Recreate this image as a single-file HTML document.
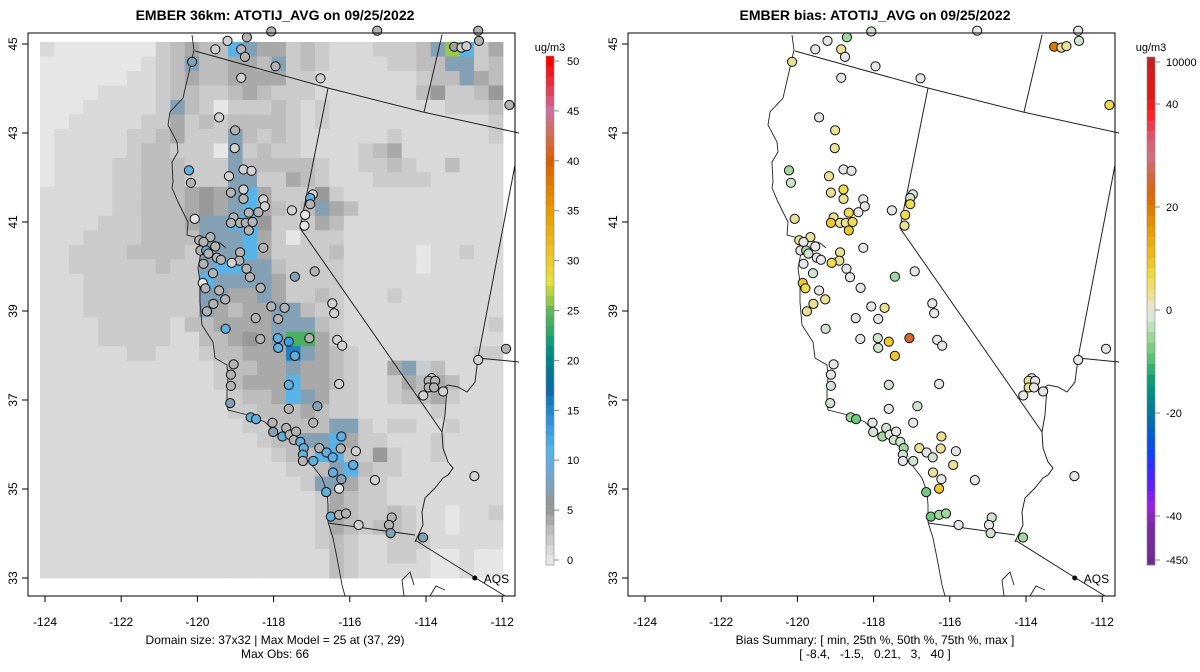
<!DOCTYPE html>
<html><head><meta charset="utf-8"><style>
html,body{margin:0;padding:0;background:#fff;}
svg{display:block;font-family:"Liberation Sans",sans-serif;}
</style></head><body>
<svg id="chart" width="1200" height="672" viewBox="0 0 1200 672">
<rect width="1200" height="672" fill="#fff"/>
<g id="left"></g>
<g id="right" transform="translate(600,0)"></g>
</svg>
<script>
// ---- data ----
const xTicks = [-124, -122, -120, -118, -116, -114, -112];
const yTicks = [33, 35, 37, 39, 41, 43, 45];
const obsCbTicks = [0, 5, 10, 15, 20, 25, 30, 35, 40, 45, 50];
const biasCbTicks = [10000, 40, 20, 0, -20, -40, -450];
const cellCodes = ['a','b','c','d','e','f','g','h','i','j','k'];
const cellValues = [0, 1, 2, 3, 4, 5, 7, 11, 15.5, 24, 26];
const modelRows = [
"baaaaaaacdeddhgeecdcbbbcccdgkhce",
"aaaaaaabcdgddeedgcdcbbbbccddggcd",
"aaaaaabbcdeddeeeeccbbbbbbbcddged",
"aaaabbbbcddccdedcccbbbbbbbdfccdf",
"aaabbbbbcgdcacccdcbcbbbbbbbbcccd",
"aabbbbbccecdcddddcbcbbbbbbbbbbbc",
"abbbbbccdecccgdcdcbbbbbbcbbbbbbc",
"abbbbbcddcccagcdccbbbbcdebbbbbbb",
"abbbbccdddcccgdddddcbbccdcbbdbbb",
"abbbbccdddcccggccedcbbbccccbbbbb",
"bbbbbccdddefeghecccfcbbbbbbbbbbb",
"bbbbbccdddefeghedcdgedbbbbbbbbbb",
"bbbbcccdddegghhfcccedbbbbbbbbbbb",
"bbbccccddddggghecacccbbbbbbbbbbb",
"bbccccddddcggghecccc" + "dbbbbbabbcbb",
"bbccccccdccghhggdccccbbbbbabbbbb",
"bbbcccccccchgggge" + "cccc" + "bbbbbbbbbbb",
"bbbccccccccggeegeccdcbbbcbbbbbbb",
"bbbccccccccgedeeggdccbbbbbbbbbbb",
"bbbbcccccbddeeeegggdcbbbbbbbbbbc",
"bbbbcccccbbddefegjjecbbbbbbbbbbb",
"bbbbbbccbbbcddeeeigedcbbbbbbbbcc",
"bbbbbbbbbbbbcddeegeedcbbegcdbbbb",
"bbbbbbbbbbbbcdeeeheedcbbcededbbb",
"bbbbbbbbbbbbbcddehgeccbbcddecbbb",
"bbbbbbbbbbbbbccdddedccbbbbbcbbbb",
"bbbbbbbbbbbbbbccddddggcbccbbcbbb",
"bbbbbbbbbbbbbbbcddggheccbbbcbbbb",
"bbbbbbbbbbbbbbbbcddhhdcfcbbcbbbb",
"bbbbbbbbbbbbbbbbbccdghdccbbbbbbb",
"bbbbbbbbbbbbbbbbbbcggeccbbbbbbbb",
"bbbbbbbbbbbbbbbbbbbcedccbbbbbbbb",
"bbbbbbbbbbbbbbbbbbbcedccdcbbabbc",
"bbbbbbbbbbbbbbbbbbbcedcddcbbabbb",
"bbbbbbbbbbbbbbbbbbbcdcbbcccbbbbb",
"bbbbbbbbbbbbbbbbbbbbdcbbccbaabaa",
"bbbbbbbbbbbbbbbbbbbbdcbbbbbaabaa"
];
const stationLon = [-119.21,-118.70,-118.06,-115.28,-119.53,-118.85,-118.75,-117.95,-120.14,-118.85,-116.77,-113.26,-113.07,-112.94,-112.61,-112.63,-111.81,-119.43,-119.01,-119.02,-120.22,-120.17,-118.79,-118.58,-119.17,-119.12,-118.79,-118.79,-118.27,-118.23,-118.40,-118.65,-119.05,-119.12,-118.88,-118.73,-118.55,-118.65,-120.07,-117.52,-116.97,-117.04,-117.04,-117.17,-117.19,-119.95,-119.66,-119.84,-119.53,-119.92,-119.77,-119.71,-119.49,-119.38,-119.84,-118.88,-118.90,-119.10,-118.27,-119.59,-118.71,-118.62,-118.34,-119.86,-119.79,-119.43,-119.27,-119.58,-117.44,-116.92,-116.46,-118.06,-117.71,-119.75,-118.47,-117.88,-116.41,-119.26,-118.35,-117.89,-117.60,-117.88,-117.06,-116.33,-116.20,-117.44,-119.05,-119.12,-119.12,-117.60,-116.28,-119.14,-118.60,-118.46,-118.03,-117.60,-116.85,-116.96,-118.01,-117.77,-117.67,-117.58,-117.41,-117.47,-117.30,-117.21,-117.23,-117.23,-116.96,-116.80,-116.61,-116.45,-116.22,-116.24,-115.84,-115.91,-116.44,-116.22,-116.28,-115.34,-116.62,-116.50,-116.28,-116.10,-115.77,-114.90,-114.97,-114.93,-114.08,-113.85,-113.93,-113.76,-113.93,-113.79,-114.07,-113.55,-112.63,-111.90,-112.73];
const stationLat = [45.07,45.15,45.28,45.30,44.88,44.88,44.71,44.50,44.60,44.24,44.23,44.94,44.92,44.95,45.07,45.30,43.63,43.35,43.06,42.66,42.16,41.88,42.18,42.15,42.03,41.66,41.73,41.52,41.51,41.35,41.22,41.21,41.10,40.98,40.98,40.98,41.00,40.81,41.07,41.26,41.62,41.54,41.40,41.16,40.92,40.59,40.66,40.55,40.45,40.36,40.36,40.29,40.20,40.15,40.06,40.32,40.13,40.08,40.42,39.85,39.95,39.76,39.52,39.63,39.51,39.46,39.26,39.16,39.77,39.89,39.17,39.10,39.07,38.99,38.84,38.82,38.95,38.60,38.37,38.39,38.31,38.17,38.39,38.35,38.22,37.99,37.80,37.57,37.32,37.34,37.36,36.93,36.61,36.57,36.49,36.80,36.86,36.49,36.28,36.18,36.37,36.22,36.29,36.10,36.06,35.92,35.77,35.63,35.63,35.92,35.82,35.71,36.18,35.91,35.85,35.54,35.37,35.22,35.01,35.20,34.93,34.38,34.42,34.45,34.19,34.36,34.19,34.01,33.91,37.49,37.43,37.43,37.28,37.28,37.10,37.19,37.90,38.15,35.29];
const stationObs = [1.5,3.5,3.5,3.5,1.5,3.5,3.5,3.5,7,1.5,1.5,4.5,2,2,3.5,3.5,3.5,1.5,3.5,1.5,10,3.5,1.5,1.5,1.5,3.5,1.5,3.5,1.5,1.5,3.5,3.5,3.5,3.5,3.5,3.5,3.5,3.5,0,1.5,1.5,10,3.5,0,0,3.5,3.5,3.5,3.5,3.5,10,3.5,3.5,3.5,3.5,3.5,3.5,1.5,3.5,3.5,3.5,3.5,3.5,0,3.5,3.5,3.5,3.5,7,3.5,1.5,3.5,3.5,3.5,3.5,3.5,1.5,10,3.5,10,13,10,3.5,1.5,1.5,10,3.5,3.5,3.5,10,1.5,7,10,10,3.5,3.5,7,3.5,7,10,3.5,3.5,3.5,3.5,10,10,10,3.5,10,3.5,10,10,10,3.5,1.5,10,10,7,0,1.5,10,10,3.5,3.5,1.5,3.5,3.5,7,7,1.5,3.5,3.5,3.5,3.5,1.5,1.5,1.5,3.5,1.5];
const stationBias = [0,-5,-2,0,0,2.5,0,0,2.5,0,0,20,2.5,2.5,-2,0,6,0,2.5,2.5,-5,-2,0,0,2.5,2.5,6,2.5,0,0,0,6,2.5,9,2.5,2.5,6,9,2.5,0,0,-2,6,6,2.5,2.5,2.5,0,0,0,-5,-2,0,0,0,2.5,2.5,6,0,-2,0,0,0,9,6,0,2.5,2.5,-5,0,0,0,2.5,2.5,0,0,0,-2,0,-2,9,-2,25,0,0,9,0,0,-2,-2,0,-2,-5,-8,0,0,-2,0,-2,-5,-2,0,0,-2,-2,-5,-2,0,-2,2.5,0,-2,2.5,2.5,0,2.5,2.5,0,9,0,-8,-8,-5,-5,0,-2,0,-2,-5,0,2.5,0,2.5,0,0,0,0,0,0];
const aqsLon = -112.72, aqsLat = 33.0;

// ---- axes ----
const xOf = lon => 45 + (lon + 124) * 38.1;
const yOf = lat => 44 + (45 - lat) * 44.5;
const gridX0 = 40, gridY0 = 42, cellW = 463 / 32, cellH = 536 / 37;
const obsCbY = v => 560 - v * 9.98;
const biasCbY = v => {
  if (v > 40) return 104 - Math.min(1, Math.log10(v / 40) / Math.log10(250)) * 47;
  if (v < -40) return 518 + Math.min(1, Math.log10(-v / 40) / Math.log10(11.25)) * 47;
  return 310 - v * 5.15;
};
const biasCbInv = y => {
  if (y < 104) return 40 * Math.pow(250, (104 - y) / 47);
  if (y > 518) return -40 * Math.pow(11.25, (y - 518) / 47);
  return (310 - y) / 5.15;
};

function hex(c){return [parseInt(c.substr(1,2),16),parseInt(c.substr(3,2),16),parseInt(c.substr(5,2),16)];}
function interp(stops, v){
  if (v <= stops[0][0]) return stops[0][1];
  if (v >= stops[stops.length-1][0]) return stops[stops.length-1][1];
  for (let i=1;i<stops.length;i++){
    if (v <= stops[i][0]){
      const t=(v-stops[i-1][0])/(stops[i][0]-stops[i-1][0]);
      const a=hex(stops[i-1][1]), b=hex(stops[i][1]);
      return 'rgb('+a.map((x,k)=>Math.round(x+(b[k]-x)*t)).join(',')+')';
    }
  }
}
const obsStops=[[0,'#e6e6e6'],[1,'#d9d9d9'],[2,'#cbcbcb'],[3,'#bdbdbd'],[4,'#a9a9a9'],[5,'#999999'],[6,'#8f979d'],[7,'#84a0b4'],[9,'#6aaad4'],[11,'#58b4e8'],[13,'#3a9ee0'],[15,'#2288cc'],[17,'#0a6aaa'],[19,'#007890'],[21,'#009080'],[23,'#30a868'],[25,'#60b858'],[26,'#98c848'],[28,'#e4e040'],[31,'#f0c020'],[35,'#e89a00'],[40,'#d86000'],[43,'#d07060'],[45,'#cc70a0'],[47,'#e04058'],[50,'#ff0000']];
const biasStops=[[-450,'#6a2d8a'],[-42,'#7a2aa0'],[-38,'#9a20e8'],[-33,'#5020ff'],[-28,'#1040ff'],[-24,'#0060d0'],[-20,'#007a9a'],[-16,'#009080'],[-13,'#10a070'],[-10,'#50c070'],[-7,'#80d080'],[-4,'#b0dcb0'],[-1.5,'#d8e6d8'],[0,'#e6e6e6'],[1.5,'#e8e2b0'],[4,'#f0e070'],[7,'#f0d840'],[10,'#f0c020'],[14,'#eaa808'],[18,'#e08800'],[22,'#dc6800'],[26,'#d06840'],[30,'#d07080'],[34,'#e05070'],[38,'#ff2020'],[42,'#e01818'],[10000,'#a02828']];
const obsColor = v => interp(obsStops, v);
const biasColor = v => interp(biasStops, v);

const NS='http://www.w3.org/2000/svg';
function mk(tag, attrs, parent){const e=document.createElementNS(NS,tag);for(const k in attrs)e.setAttribute(k,attrs[k]);parent.appendChild(e);return e;}

// geography outlines (left-panel pixel space)
const coastPath="M192,35 L194,50 L189,72 L183,98 L170,112 L168,125 L177,142 L178,152 L172,162 L173,182 L172,188 L178,202 L188,222 L187,235 L198,238 L202,248 L198,268 L200,282 L200,302 L202,325 L213,342 L215,358 L227,365 L228,377 L227,392 L227,403 L228,410 L248,415 L265,422 L275,432 L288,438 L302,445 L305,458 L312,465 L322,478 L327,492 L328,505 L328,522 L333,538 L337,558 L342,585 L345,596 M200,238 L210,240 L220,243 L226,248 M404,596 L402,580 L410,572 L414,585 M430,596 L436,586 L445,590";
const borderPaths=["M195,51 L328,88 L423,112 L519,133","M328,88 L300,228 L442,432","M442,432 L443,448 L448,462 L453,468 L448,475 L443,478 L435,488 L425,498 L422,512 L423,525 L415,542","M328,523 L415,535","M415,540 L474,577 L505,596","M442,35 L424,112","M515,165 L478,358 L519,362","M478,358 L475,382 L467,392 L458,387 L448,385 L443,388","M447,387 L445,415 L442,432"];

function panel(g, isBias){
  if(!isBias){
    modelRows.forEach((row,r)=>{
      for(let c=0;c<row.length;c++){
        const v=cellValues[cellCodes.indexOf(row[c])];
        const rect=mk('rect',{x:(gridX0+c*cellW).toFixed(2),y:(gridY0+r*cellH).toFixed(2),width:(cellW+0.4).toFixed(2),height:(cellH+0.4).toFixed(2),fill:obsColor(v)},g);
        
        
      }
    });
  }
  const geo=mk('g',{fill:'none',stroke:'#222','stroke-width':1},g);
  
  
  const cp=mk('path',{d:coastPath,'stroke-width':0.9},geo);
  
  
  borderPaths.forEach(d=>{const p=mk('path',{d:d},geo);
    
    });
  stationLon.forEach((lon,i)=>{
    const fill=isBias?biasColor(stationBias[i]):obsColor(stationObs[i]);
    const c=mk('circle',{cx:xOf(lon).toFixed(1),cy:yOf(stationLat[i]).toFixed(1),r:4.6,fill:fill,stroke:'#111','stroke-width':1},g);
    
    
  });
  const fr=mk('rect',{x:28,y:33,width:487,height:563,fill:'none',stroke:'#000','stroke-width':1},g);
  
  
  const ad=mk('circle',{cx:xOf(aqsLon),cy:yOf(aqsLat),r:2.5,fill:'#000'},g);
  
  
  const at=mk('text',{x:xOf(aqsLon)+9,y:yOf(aqsLat)+5,'font-size':12},g);at.textContent='AQS';
  
  
  xTicks.forEach(t=>{
    const l=mk('line',{x1:xOf(t),x2:xOf(t),y1:596,y2:602,stroke:'#000'},g);
    
    
    const tx=mk('text',{x:xOf(t),y:626,'font-size':12,'text-anchor':'middle'},g);tx.textContent=t;
    
    
  });
  yTicks.forEach(t=>{
    const l=mk('line',{x1:22,x2:28,y1:yOf(t),y2:yOf(t),stroke:'#000'},g);
    
    
    const tx=mk('text',{x:0,y:0,'font-size':12,'text-anchor':'middle',transform:'translate(17,'+yOf(t)+') rotate(-90)'},g);tx.textContent=t;
    
    
  });
  const title=mk('text',{x:275,y:20,'font-size':14,'font-weight':'bold','text-anchor':'middle'},g);
  title.textContent=isBias?'EMBER bias: ATOTIJ_AVG on 09/25/2022':'EMBER 36km: ATOTIJ_AVG on 09/25/2022';
  
  
  const s1=mk('text',{x:275,y:644,'font-size':12,'text-anchor':'middle'},g);
  s1.textContent=isBias?'Bias Summary: [ min, 25th %, 50th %, 75th %, max ]':'Domain size: 37x32 | Max Model = 25 at (37, 29)';
  
  
  const s2=mk('text',{x:275,y:658,'font-size':12,'text-anchor':'middle'},g);
  s2.textContent=isBias?'[ -8.4,   -1.5,   0.21,   3,   40 ]':'Max Obs: 66';
  s2.style.whiteSpace='pre';
  
  
  const cb=mk('g',{},g);
  
  
  if(!isBias){
    for(let v=0;v<=50;v++){
      const y1=obsCbY(v+0.5), y2=obsCbY(v-0.5);
      const r=mk('rect',{x:546,y:y1,width:8,height:y2-y1+0.3,fill:obsColor(v)},cb);
      
      
    }
    mk('rect',{x:546,y:obsCbY(50.5),width:8,height:obsCbY(-0.5)-obsCbY(50.5),fill:'none',stroke:'#888','stroke-width':0.6},cb);
    obsCbTicks.forEach(t=>{
      const l=mk('line',{x1:554,x2:559,y1:obsCbY(t),y2:obsCbY(t),stroke:'#888'},cb);
      
      
      const tx=mk('text',{x:567,y:obsCbY(t)+4,'font-size':11},cb);tx.textContent=t;
      
      
    });
  } else {
    const top=57, bot=565, n=48, h=(bot-top)/n;
    for(let i=0;i<n;i++){
      const v=biasCbInv(top+(i+0.5)*h);
      const r=mk('rect',{x:547,y:top+i*h,width:8,height:h+0.3,fill:biasColor(v)},cb);
      
      
    }
    mk('rect',{x:547,y:top,width:8,height:bot-top,fill:'none',stroke:'#888','stroke-width':0.6},cb);
    biasCbTicks.forEach(t=>{
      const y=t===10000?62:(t===-450?560:biasCbY(t));
      const l=mk('line',{x1:555,x2:560,y1:y,y2:y,stroke:'#888'},cb);
      
      
      const tx=mk('text',{x:566,y:y+4,'font-size':11},cb);tx.textContent=t;
      
      
    });
  }
  const u=mk('text',{x:isBias?551:550,y:51,'font-size':11,'text-anchor':'middle'},cb);u.textContent='ug/m3';
  
  
}
panel(document.getElementById('left'), false);
panel(document.getElementById('right'), true);
</script>
</body></html>
